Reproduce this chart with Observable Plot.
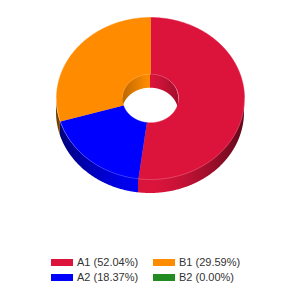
<!DOCTYPE html>
<html><head><meta charset="utf-8">
<script src="https://cdn.jsdelivr.net/npm/d3@7"></script>
<script src="https://cdn.jsdelivr.net/npm/@observablehq/plot@0.6"></script>
<style>
html,body{margin:0;padding:0;background:#fff;width:300px;height:300px;overflow:hidden}
#chart svg{display:block}
#legend{position:relative;width:300px;height:50px;font-family:"Liberation Sans",Arial,sans-serif;font-size:11px;color:#333}
.item{position:absolute;display:flex;align-items:center;white-space:nowrap;height:14px;line-height:14px}
.sw{width:22px;height:7px;margin-right:4px;flex:none}
</style></head><body><div id="chart"></div><div id="legend"></div>
<script>
// ---- data ----
const categories = ["A1", "A2", "B1", "B2"];
const values = [52.04, 18.37, 29.59, 0.00];
const colors = ["#DC143C", "#0000FF", "#FF8C00", "#228B22"];
const legendLabels = ["A1 (52.04%)", "A2 (18.37%)", "B1 (29.59%)", "B2 (0.00%)"];

// ---- layout ----
const W = 300, H = 250;
const cx = 150, cy = 98, rx = 94, ry = 81, depth = 14, innerRatio = 0.3;
const rix = rx * innerRatio, riy = ry * innerRatio;
const STEP = Math.PI / 360;

const arcs = d3.pie().sort(null).value(d => d)(values);

function sample(a0, a1) {
  const n = Math.max(2, Math.ceil((a1 - a0) / STEP) + 1);
  return d3.range(n).map(i => a0 + (a1 - a0) * i / (n - 1));
}
function clip(s, e, lo, hi) {
  const a = Math.max(s, lo), b = Math.min(e, hi);
  return b > a ? [a, b] : null;
}

const topFaces = [], outerWalls = [], innerWalls = [];
arcs.forEach((arc, i) => {
  const s = arc.startAngle, e = arc.endAngle;
  if (e - s <= 0) return;
  const key = categories[i];
  // top face: outer arc forward, inner arc backward
  sample(s, e).forEach(a => topFaces.push({key, x: cx + rx * Math.sin(a), y: cy - ry * Math.cos(a), fill: colors[i]}));
  sample(s, e).reverse().forEach(a => topFaces.push({key, x: cx + rix * Math.sin(a), y: cy - riy * Math.cos(a), fill: colors[i]}));
  // outer front wall
  const ow = clip(s, e, Math.PI / 2, 3 * Math.PI / 2);
  if (ow) sample(ow[0], ow[1]).forEach(a => {
    const y = cy - ry * Math.cos(a);
    outerWalls.push({key, x: cx + rx * Math.sin(a), y1: y, y2: y + depth, fill: `url(#ow-${i})`});
  });
  // inner back wall (two possible ranges)
  [[0, Math.PI / 2, "a"], [3 * Math.PI / 2, 2 * Math.PI, "b"]].forEach(([lo, hi, tag]) => {
    const iw = clip(s, e, lo, hi);
    if (iw) sample(iw[0], iw[1]).forEach(a => {
      const y = cy - riy * Math.cos(a);
      innerWalls.push({key: key + tag, x: cx + rix * Math.sin(a), y1: y, y2: y + depth, fill: `url(#iw-${i})`});
    });
  });
});

const frontRim = sample(Math.PI / 2, 3 * Math.PI / 2).map(a => ({x: cx + rx * Math.sin(a), y: cy - ry * Math.cos(a)}));
const innerRim = sample(-Math.PI / 2, Math.PI / 2).map(a => ({x: cx + rix * Math.sin(a), y: cy - riy * Math.cos(a)}));

const svg = Plot.plot({
  width: W, height: H, margin: 0,
  x: {domain: [0, W], range: [0, W], axis: null},
  y: {domain: [0, H], range: [0, H], axis: null},
  color: {type: "identity"},
  marks: [
    Plot.area(innerWalls, {x1: "x", y1: "y1", y2: "y2", z: "key", fill: "fill"}),
    Plot.area(outerWalls, {x1: "x", y1: "y1", y2: "y2", z: "key", fill: "fill"}),
    Plot.line(topFaces, {x: "x", y: "y", z: "key", fill: "fill", stroke: "fill", strokeWidth: 0.5}),
    Plot.line(frontRim, {x: "x", y: "y", stroke: "#fff", strokeOpacity: 0.3, strokeWidth: 0.7}),
    Plot.line(innerRim, {x: "x", y: "y", stroke: "#fff", strokeOpacity: 0.3, strokeWidth: 0.7})
  ]
});

// shading gradients for the 3D walls
const xs = svg.scale("x");
const defs = d3.select(svg).insert("defs", ":first-child");
function shade(c, k) { const r = d3.rgb(c); return d3.rgb(r.r * k, r.g * k, r.b * k).formatHex(); }
colors.forEach((c, i) => {
  const og = defs.append("linearGradient").attr("id", `ow-${i}`).attr("gradientUnits", "userSpaceOnUse")
    .attr("x1", xs.apply(cx - rx)).attr("x2", xs.apply(cx + rx)).attr("y1", 0).attr("y2", 0);
  const ig = defs.append("linearGradient").attr("id", `iw-${i}`).attr("gradientUnits", "userSpaceOnUse")
    .attr("x1", xs.apply(cx - rix)).attr("x2", xs.apply(cx + rix)).attr("y1", 0).attr("y2", 0);
  d3.range(21).forEach(j => {
    const t = j / 20, u = Math.abs(2 * t - 1);
    og.append("stop").attr("offset", t).attr("stop-color", shade(c, 1 - 0.56 * Math.pow(u, 1.5)));
    ig.append("stop").attr("offset", t).attr("stop-color", shade(c, 1 - 0.27 * Math.pow(u, 1.2)));
  });
});
document.getElementById("chart").appendChild(svg);

// legend (2 rows, column-major)
const legend = d3.select("#legend");
categories.forEach((cat, i) => {
  const col = Math.floor(i / 2), row = i % 2;
  const item = legend.append("div").attr("class", "item")
    .style("left", (51 + col * 102) + "px").style("top", (5 + row * 15) + "px");
  item.append("div").attr("class", "sw").style("background", colors[i]);
  item.append("span").text(legendLabels[i]);
});
</script>
</body></html>
